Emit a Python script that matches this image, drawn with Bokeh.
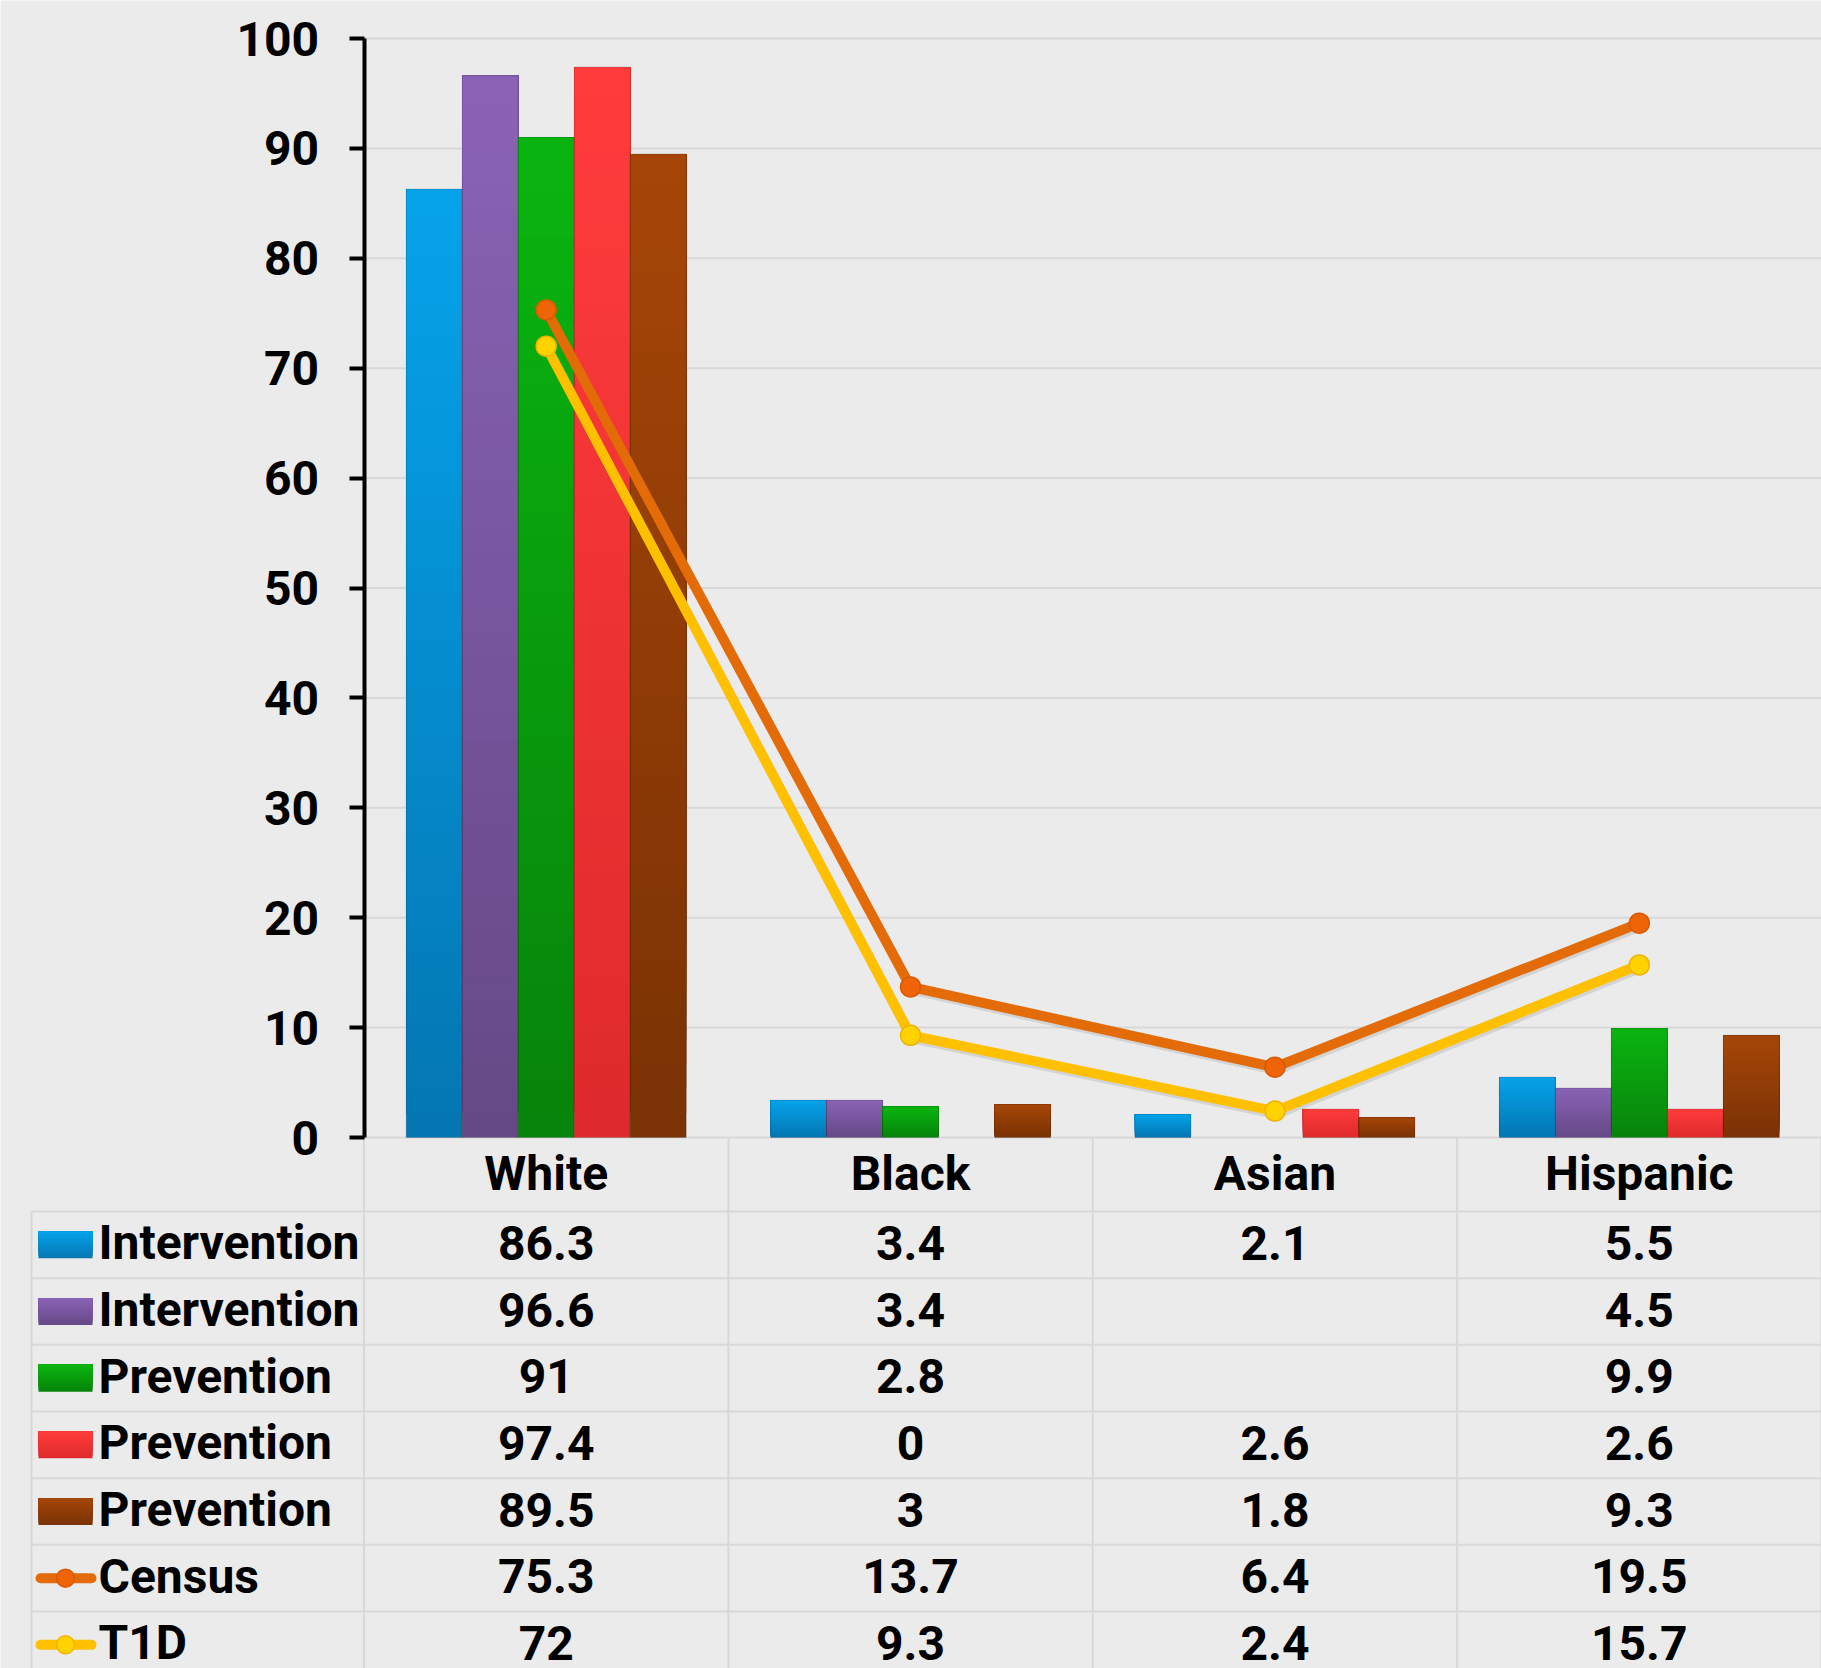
from bokeh.plotting import figure
from bokeh.models import Range1d, FixedTicker, ColumnDataSource, LinearAxis
from bokeh.core.properties import value
from bokeh.embed import file_html
from bokeh.resources import INLINE

# ---------------- data ----------------
categories = ["White", "Black", "Asian", "Hispanic"]
bar_names = ["Intervention", "Intervention", "Prevention", "Prevention", "Prevention"]
intervention_a = [86.3, 3.4, 2.1, 5.5]
intervention_b = [96.6, 3.4, None, 4.5]
prevention_a = [91, 2.8, None, 9.9]
prevention_b = [97.4, 0, 2.6, 2.6]
prevention_c = [89.5, 3, 1.8, 9.3]
line_names = ["Census", "T1D"]
census = [75.3, 13.7, 6.4, 19.5]
t1d = [72, 9.3, 2.4, 15.7]
y_ticks = [0, 10, 20, 30, 40, 50, 60, 70, 80, 90, 100]

bar_series = [intervention_a, intervention_b, prevention_a, prevention_b, prevention_c]
bar_top_colors = [(6, 163, 235), (138, 99, 182), (10, 181, 16), (255, 60, 60), (166, 70, 8)]
bar_bot_colors = [(4, 118, 178), (101, 73, 134), (7, 131, 11), (222, 42, 44), (122, 50, 5)]
line_series = [census, t1d]
line_colors = ["#e36c09", "#ffc000"]
marker_fill = ["#ef6406", "#ffd200"]
marker_line = ["#d85a04", "#f0b400"]

BG = "#ebebeb"
GRID = "#d8d8d8"
FONT = value("Roboto")


def hexc(c):
    return "#%02x%02x%02x" % tuple(int(round(v)) for v in c)


def lerp(a, b, t):
    return tuple(a[i] + (b[i] - a[i]) * t for i in range(3))


# ---------------- layout geometry (pixels -> data) ----------------
W, H = 1821, 1668
X0_PX = 363.5                    # x of the value axis / first category edge
unit_px = (W - X0_PX) / 4.0      # px per category
Y0_PX = 1137.0                   # y of value 0
px_per_y = 1099 / 100.0
TEXT_SHIFT = 16.0                # renderer baseline correction (px)


def px2x(xpx):
    return (xpx - X0_PX) / unit_px


def py(ypx):
    return (Y0_PX - ypx) / px_per_y


bar_w = 56.0 / unit_px

p = figure(width=W, height=H, x_range=Range1d(px2x(0), px2x(W)),
           y_range=Range1d(py(H), py(0)), output_backend="svg", toolbar_location=None,
           x_axis_location=None, y_axis_location=None,
           min_border_left=0, min_border_top=0, min_border_right=0, min_border_bottom=0)
p.background_fill_color = BG
p.border_fill_color = BG
p.outline_line_color = None
p.xgrid.visible = False
p.ygrid.visible = False

# horizontal value grid lines (within the chart area only)
gt = y_ticks[1:]
p.segment(x0=[0] * len(gt), y0=gt, x1=[4] * len(gt), y1=gt, line_color=GRID, line_width=2)

# ---------------- table grid ----------------
cat_top = 0.0
row_top_px = 1211.0
row_h = 66.67
nrows = len(bar_series) + len(line_series)
row_edges = [py(row_top_px + k * row_h) for k in range(nrows + 1)]
tbl_left = px2x(31)
bottom_y = py(H + 20)

p.segment(x0=[0], y0=[cat_top], x1=[4], y1=[cat_top], line_color=GRID, line_width=2)
p.segment(x0=[tbl_left] * len(row_edges), y0=row_edges, x1=[4] * len(row_edges),
          y1=row_edges, line_color=GRID, line_width=2)
vx = [0, 1, 2, 3, 4]
p.segment(x0=vx, y0=[cat_top] * len(vx), x1=vx, y1=[bottom_y] * len(vx),
          line_color=GRID, line_width=2)
p.segment(x0=[tbl_left], y0=[row_edges[0]], x1=[tbl_left], y1=[bottom_y],
          line_color=GRID, line_width=2)

# ---------------- value axis ----------------
ax = LinearAxis(fixed_location=0, bounds=(0, 100), ticker=FixedTicker(ticks=y_ticks))
ax.axis_line_color = "black"
ax.axis_line_width = 4
ax.major_tick_line_color = "black"
ax.major_tick_line_width = 4
ax.major_tick_out = 15
ax.major_tick_in = 0
ax.minor_tick_line_color = None
ax.major_label_text_font = "Roboto"
ax.major_label_text_font_style = "bold"
ax.major_label_text_font_size = "48px"
ax.major_label_text_color = "black"
ax.major_label_standoff = 30
p.add_layout(ax, "left")

# ---------------- gradient bars ----------------
N = 40
L, R, B, T, C = [], [], [], [], []
OL, OR, OT = [], [], []
for k, ser in enumerate(bar_series):
    for i, v in enumerate(ser):
        if v is None or v == 0:
            continue
        left = i + 0.5 + (k - 2.5) * bar_w
        right = left + bar_w
        for j in range(N):
            L.append(left)
            R.append(right)
            B.append(v * j / N)
            T.append(v)
            C.append(hexc(lerp(bar_bot_colors[k], bar_top_colors[k], (j + 0.5) / N)))
        OL.append(left)
        OR.append(right)
        OT.append(v)
p.quad(source=ColumnDataSource(dict(left=L, right=R, bottom=B, top=T, color=C)),
       left="left", right="right", bottom="bottom", top="top",
       fill_color="color", line_color=None)
p.quad(left=OL, right=OR, bottom=[0] * len(OL), top=OT, fill_color=None,
       line_color="black", line_alpha=0.15, line_width=1)

# ---------------- lines ----------------
xc = [i + 0.5 for i in range(len(categories))]
sh = 3.0 / px_per_y
for s, ser in enumerate(line_series):
    p.line(x=[x + 0.004 for x in xc], y=[v - sh for v in ser], line_color="black",
           line_alpha=0.10, line_width=10, line_join="round")
    p.line(x=xc, y=ser, line_color=line_colors[s], line_width=10, line_join="round")
    p.scatter(x=xc, y=ser, size=20, fill_color=marker_fill[s],
              line_color=marker_line[s], line_width=1.5)

# ---------------- category labels ----------------
p.text(x=xc, y=[py(1188.5 - TEXT_SHIFT)] * len(xc), text=categories, text_font=FONT,
       text_font_style="bold", text_font_size="48px", text_align="center",
       text_baseline="alphabetic", text_color="black")

# ---------------- legend keys ----------------
SW_N = 12
sl, sr, sb, st, sc = [], [], [], [], []
for k in range(len(bar_series)):
    cpx = row_top_px + (k + 0.5) * row_h
    y_top = py(cpx - 13.5)
    y_bot = py(cpx + 13.5)
    for j in range(SW_N):
        sl.append(px2x(38))
        sr.append(px2x(92))
        sb.append(y_bot + (y_top - y_bot) * j / SW_N)
        st.append(y_top)
        sc.append(hexc(lerp(bar_bot_colors[k], bar_top_colors[k], (j + 0.5) / SW_N)))
p.quad(source=ColumnDataSource(dict(left=sl, right=sr, bottom=sb, top=st, color=sc)),
       left="left", right="right", bottom="bottom", top="top",
       fill_color="color", line_color=None)

for s in range(len(line_series)):
    r = py(row_top_px + (len(bar_series) + s + 0.5) * row_h)
    p.segment(x0=[px2x(40)], y0=[r], x1=[px2x(91)], y1=[r], line_color=line_colors[s],
              line_width=10, line_cap="round")
    p.scatter(x=[px2x(65)], y=[r], size=18, fill_color=marker_fill[s],
              line_color=marker_line[s], line_width=1.5)

# ---------------- table texts ----------------
names = bar_names + line_names
base_y = [py(row_top_px + (k + 0.5) * row_h + 14 - TEXT_SHIFT) for k in range(nrows)]
p.text(x=[px2x(98)] * nrows, y=base_y, text=names,
       text_font=FONT, text_font_style="bold", text_font_size="48px",
       text_align="left", text_baseline="alphabetic", text_color="black")


def fmt(v):
    return "" if v is None else "%g" % v


all_series = bar_series + line_series
tx, ty, tt = [], [], []
for k, ser in enumerate(all_series):
    for i, v in enumerate(ser):
        tx.append(i + 0.5)
        ty.append(base_y[k])
        tt.append(fmt(v))
p.text(x=tx, y=ty, text=tt, text_font=FONT, text_font_style="bold",
       text_font_size="48px", text_align="center", text_baseline="alphabetic",
       text_color="black")

open("out.html", "w").write(file_html(p, INLINE))
